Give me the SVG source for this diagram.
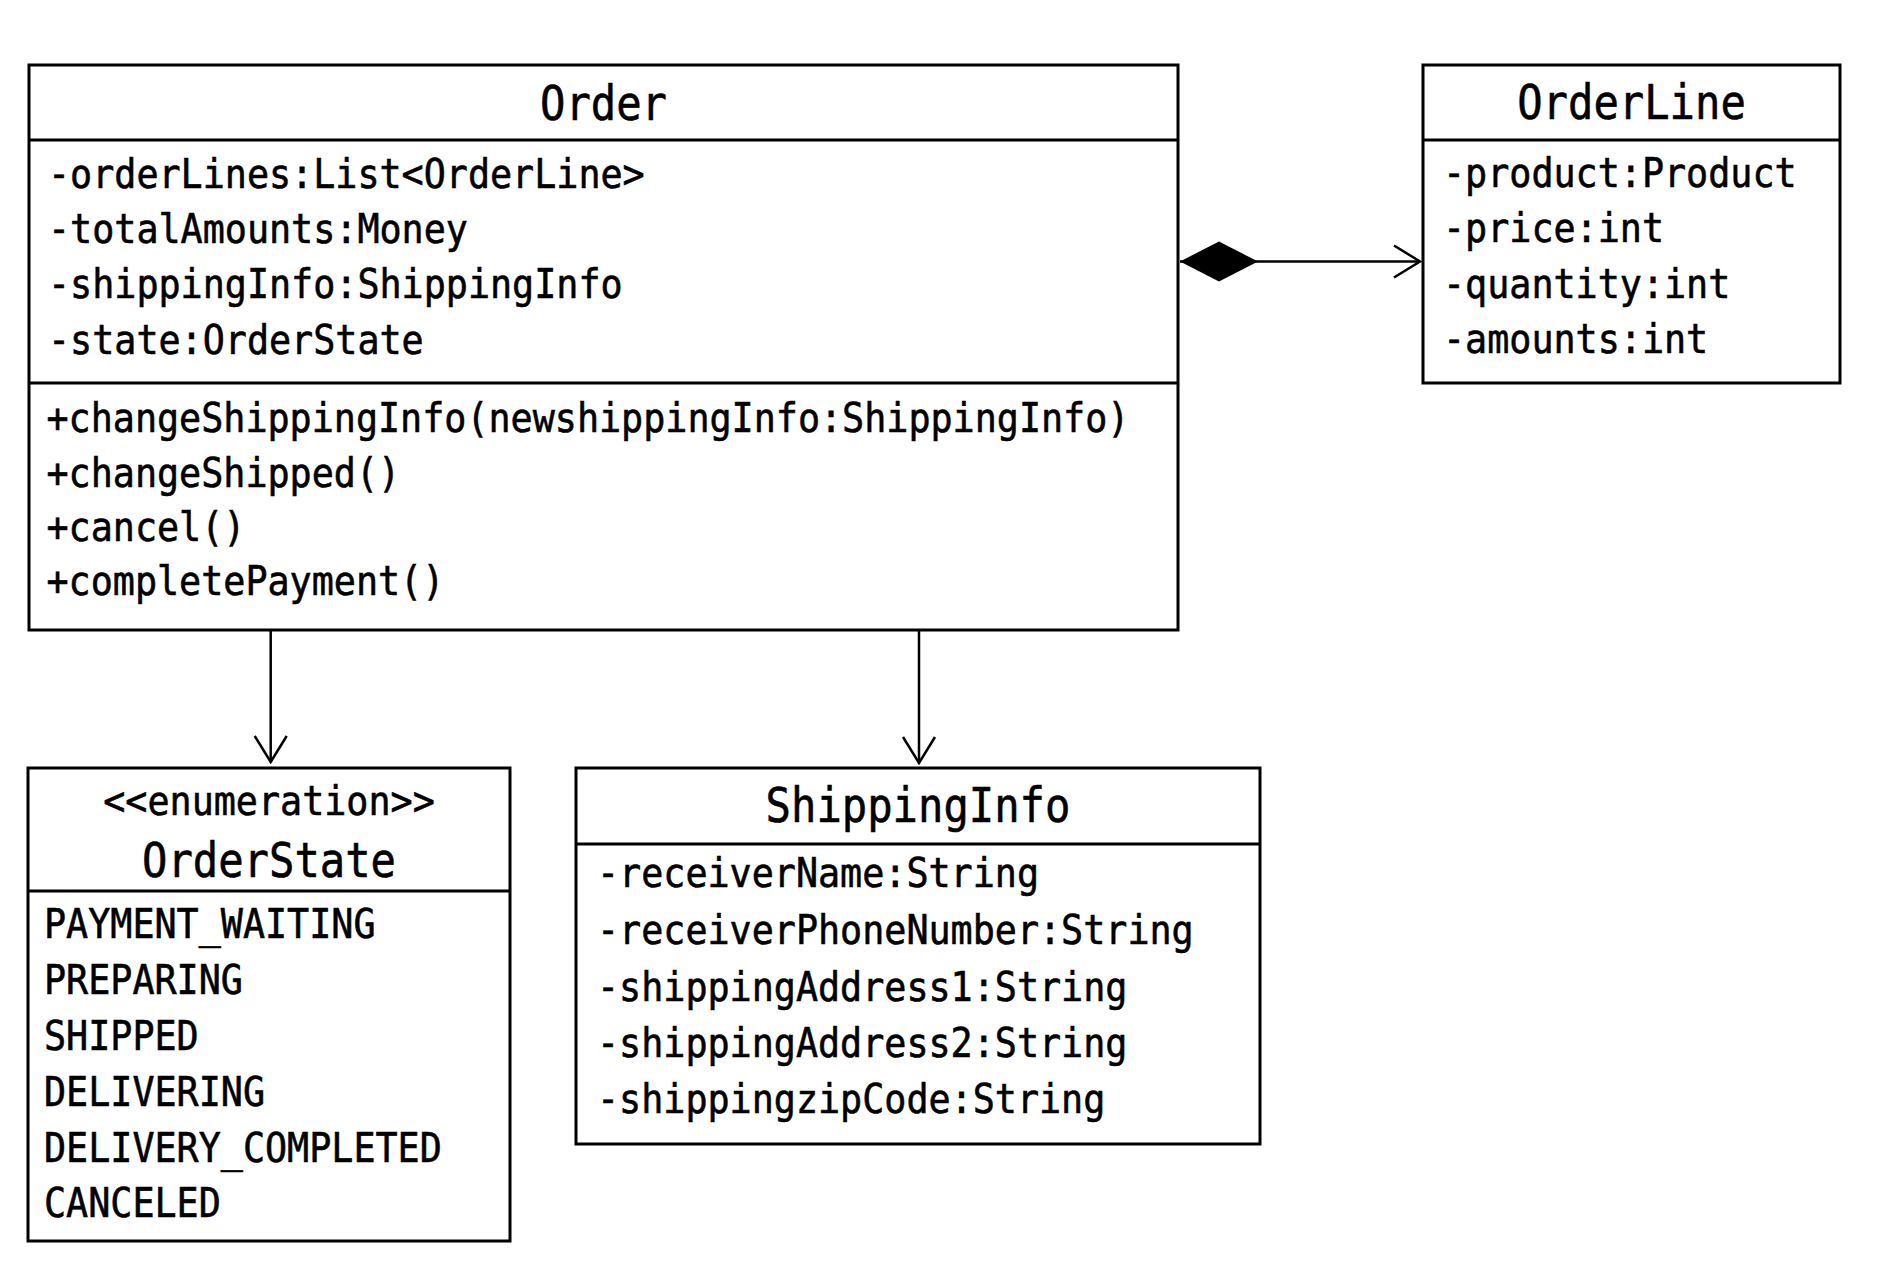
<svg xmlns="http://www.w3.org/2000/svg" width="1879" height="1281" viewBox="0 0 1879 1281">
  <defs>
    <style>
      .box { fill: #ffffff; stroke: #000000; stroke-width: 3; }
      .sep { stroke: #000000; stroke-width: 3; fill: none; }
      .edge { stroke: #000000; stroke-width: 2.5; fill: none; }
      .t { font-family: "DejaVu Sans Mono", "Liberation Mono", monospace; font-size: 40px; fill: #000000; stroke: #000000; stroke-width: 0.6; }
      .h { font-family: "DejaVu Sans Mono", "Liberation Mono", monospace; font-size: 48px; fill: #000000; stroke: #000000; stroke-width: 0.6; text-anchor: middle; }
      .s { text-anchor: middle; }
    </style>
    <marker id="open" viewBox="0 0 30 36" refX="28" refY="18" markerWidth="30" markerHeight="36" markerUnits="userSpaceOnUse" orient="auto">
      <path d="M2,2 L28,18 L2,34" fill="none" stroke="#000000" stroke-width="2.5"/>
    </marker>
    <marker id="diamond" viewBox="0 0 80 42" refX="1" refY="21" markerWidth="80" markerHeight="42" markerUnits="userSpaceOnUse" orient="auto">
      <path d="M1,21 L40,1 L79,21 L40,41 Z" fill="#000000" stroke="none"/>
    </marker>
  </defs>
  <rect x="0" y="0" width="1879" height="1281" fill="#ffffff"/>

  <g id="connectors">
    <line class="edge" x1="1180" y1="261.5" x2="1420" y2="261.5" marker-start="url(#diamond)" marker-end="url(#open)"/>
    <line class="edge" x1="270.7" y1="630" x2="270.7" y2="762" marker-end="url(#open)"/>
    <line class="edge" x1="919" y1="630" x2="919" y2="763" marker-end="url(#open)"/>
  </g>

  <g id="Order">
    <rect class="box" x="29" y="65" width="1149" height="565"/>
    <line class="sep" x1="29" y1="140" x2="1178" y2="140"/>
    <line class="sep" x1="29" y1="383" x2="1178" y2="383"/>
    <text class="h" x="603.5" y="119.5" textLength="127" lengthAdjust="spacingAndGlyphs">Order</text>
    <text class="t" x="48" y="187.5" textLength="596.7" lengthAdjust="spacingAndGlyphs">-orderLines:List&lt;OrderLine&gt;</text>
    <text class="t" x="48" y="242.5" textLength="419.9" lengthAdjust="spacingAndGlyphs">-totalAmounts:Money</text>
    <text class="t" x="48" y="298" textLength="574.6" lengthAdjust="spacingAndGlyphs">-shippingInfo:ShippingInfo</text>
    <text class="t" x="48" y="353.5" textLength="375.7" lengthAdjust="spacingAndGlyphs">-state:OrderState</text>
    <text class="t" x="46.5" y="432" textLength="1082.9" lengthAdjust="spacingAndGlyphs">+changeShippingInfo(newshippingInfo:ShippingInfo)</text>
    <text class="t" x="46.5" y="486.5" textLength="353.6" lengthAdjust="spacingAndGlyphs">+changeShipped()</text>
    <text class="t" x="46.5" y="540.5" textLength="198.9" lengthAdjust="spacingAndGlyphs">+cancel()</text>
    <text class="t" x="46.5" y="595" textLength="397.8" lengthAdjust="spacingAndGlyphs">+completePayment()</text>
  </g>

  <g id="OrderLine">
    <rect class="box" x="1423" y="65" width="417" height="318"/>
    <line class="sep" x1="1423" y1="140" x2="1840" y2="140"/>
    <text class="h" x="1631.5" y="119" textLength="228.6" lengthAdjust="spacingAndGlyphs">OrderLine</text>
    <text class="t" x="1443" y="187" textLength="353.6" lengthAdjust="spacingAndGlyphs">-product:Product</text>
    <text class="t" x="1443" y="242" textLength="221" lengthAdjust="spacingAndGlyphs">-price:int</text>
    <text class="t" x="1443" y="298" textLength="287.3" lengthAdjust="spacingAndGlyphs">-quantity:int</text>
    <text class="t" x="1443" y="353" textLength="265.2" lengthAdjust="spacingAndGlyphs">-amounts:int</text>
  </g>

  <g id="OrderState">
    <rect class="box" x="28" y="768" width="482" height="473"/>
    <line class="sep" x1="28" y1="891" x2="510" y2="891"/>
    <text class="t s" x="269" y="815" textLength="331.5" lengthAdjust="spacingAndGlyphs">&lt;&lt;enumeration&gt;&gt;</text>
    <text class="h" x="269" y="877" textLength="254" lengthAdjust="spacingAndGlyphs">OrderState</text>
    <text class="t" x="44" y="938" textLength="331.5" lengthAdjust="spacingAndGlyphs">PAYMENT_WAITING</text>
    <text class="t" x="44" y="994" textLength="198.9" lengthAdjust="spacingAndGlyphs">PREPARING</text>
    <text class="t" x="44" y="1050" textLength="154.7" lengthAdjust="spacingAndGlyphs">SHIPPED</text>
    <text class="t" x="44" y="1106" textLength="221" lengthAdjust="spacingAndGlyphs">DELIVERING</text>
    <text class="t" x="44" y="1162" textLength="397.8" lengthAdjust="spacingAndGlyphs">DELIVERY_COMPLETED</text>
    <text class="t" x="44" y="1217" textLength="176.8" lengthAdjust="spacingAndGlyphs">CANCELED</text>
  </g>

  <g id="ShippingInfo">
    <rect class="box" x="576" y="768" width="684" height="376"/>
    <line class="sep" x1="576" y1="844" x2="1260" y2="844"/>
    <text class="h" x="918" y="822" textLength="304.8" lengthAdjust="spacingAndGlyphs">ShippingInfo</text>
    <text class="t" x="597" y="887" textLength="442" lengthAdjust="spacingAndGlyphs">-receiverName:String</text>
    <text class="t" x="597" y="944" textLength="596.7" lengthAdjust="spacingAndGlyphs">-receiverPhoneNumber:String</text>
    <text class="t" x="597" y="1001" textLength="530.4" lengthAdjust="spacingAndGlyphs">-shippingAddress1:String</text>
    <text class="t" x="597" y="1057" textLength="530.4" lengthAdjust="spacingAndGlyphs">-shippingAddress2:String</text>
    <text class="t" x="597" y="1113" textLength="508.3" lengthAdjust="spacingAndGlyphs">-shippingzipCode:String</text>
  </g>
</svg>
